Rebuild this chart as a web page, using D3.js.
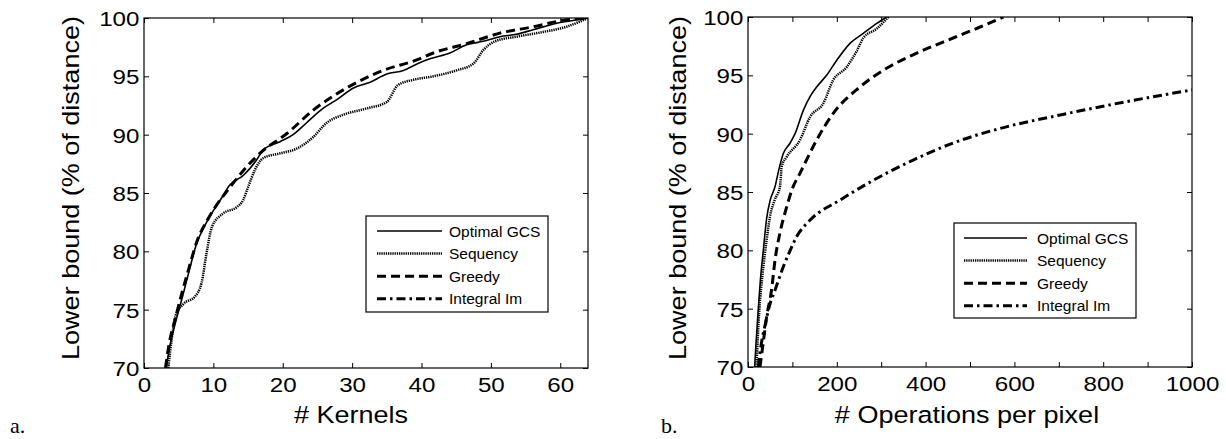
<!DOCTYPE html>
<html>
<head>
<meta charset="utf-8">
<script src="https://cdn.jsdelivr.net/npm/d3@7"></script>
<style>
  body { margin: 0; background: #fff; }
  svg { display: block; background: #fff; }
  text { font-family: "Liberation Sans", Arial, Helvetica; fill: #000; }
</style>
</head>
<body>
<svg id="chart" width="1226" height="439"></svg>
<script>
// y axis shared by both panels
const lowerBoundTicks = [70, 75, 80, 85, 90, 95, 100];

// panel a: x = # kernels
const kernelTicks = [0, 10, 20, 30, 40, 50, 60];
const kernelsOptimal = [[3.2,70],[3.6,71.5],[4.5,73.8],[5.5,76],[6.5,78.3],[7.6,80.7],[8.5,81.9],[9.5,83],[11,84.4],[12.4,85.7],[14.3,86.5],[16.2,87.8],[17.2,88.7],[19.6,89.4],[21.5,90],[23.4,91],[25.8,92.25],[27.8,93],[30.2,94],[32.6,94.5],[35,95.2],[37.4,95.5],[39.5,96.1],[41.2,96.5],[44.1,97],[46.5,97.7],[48.9,98],[51.3,98.4],[53.7,98.6],[56.1,99],[59.5,99.55],[62,99.8],[64,100]];
const kernelsSequency = [[3.5,70],[4,72.5],[4.5,74.4],[5.7,75.5],[7.3,76.1],[8.3,77.3],[9,79.8],[9.8,82.1],[11.4,83.25],[13.4,83.8],[14.3,84.4],[15,85.5],[16,87],[17.2,88],[19.6,88.4],[22,88.8],[24.4,89.8],[26.3,91],[28.7,91.7],[32.1,92.25],[35,92.8],[36.6,94.25],[38.8,94.7],[41.7,95],[45,95.5],[47.5,96.1],[48.9,97.25],[50.6,98],[53.7,98.4],[57.5,98.8],[60.9,99.25],[64,100]];
const kernelsGreedy = [[3.1,70],[3.6,72],[4.5,74.2],[5.5,76.5],[6.5,78.6],[7.6,80.8],[9.3,82.85],[12.4,85.5],[16.7,88.4],[20.6,90.1],[24.4,92.1],[29.2,94],[34,95.4],[39.5,96.45],[41.7,97],[46.5,97.8],[51.3,98.7],[56.1,99.25],[60,99.75],[64,100]];

// panel b: x = # operations per pixel
const opsTicks = [0, 100, 200, 300, 400, 500, 600, 700, 800, 900, 1000];
const opsTickLabels = [0, 200, 400, 600, 800, 1000];
const opsOptimal = [[15,70],[18,72],[23,74.9],[28,77.5],[34.5,80],[42,82.74],[50,84.3],[60.8,85.45],[70,87],[79.5,88.3],[95,89.2],[106,90],[124.6,92],[140,93.2],[154.6,94],[177,95],[200,96.3],[229.7,97.74],[259.7,98.6],[290,99.45],[312,100]];
const opsSequency = [[19,70],[22,72.5],[25.5,74.9],[33,78],[42,80.9],[49.5,82.9],[60,84.3],[72,85.45],[76,87.2],[87,88],[117,89.45],[140,91.45],[169.6,92.6],[192,94.6],[222,95.7],[245,97.1],[259.7,98.2],[290,99],[316,100]];
const opsGreedy = [[27,70],[34,72],[42,74.3],[53,76.6],[61,79.2],[72,81.5],[87,83.7],[100,85.3],[117,86.6],[154.6,89.45],[192,91.74],[252,94],[312,95.6],[380,96.9],[462,98.2],[520,99.1],[575,100]];
const opsIntegral = [[23,70],[30,72],[38,73.5],[48,75.2],[61,76.6],[79.5,78.6],[95,80],[110,81.2],[140,82.6],[207,84.3],[282,86],[372,87.74],[462,89.2],[568,90.45],[703,91.6],[853,92.75],[1000,93.75]];

const seriesNames = ["Optimal GCS", "Sequency", "Greedy", "Integral Im"];
const styles = {
  "Optimal GCS": { width: 1.6, dash: null },
  "Sequency":    { width: 2.5, dash: "1.3,0.9" },
  "Greedy":      { width: 3,   dash: "9,5" },
  "Integral Im": { width: 3,   dash: "9,4,2.5,4" }
};

const SX = 1.15; // glyphs in the original look a little wide

const panels = [
  {
    id: "a", x0: 144, x1: 588, y0: 18, y1: 368, xDomain: [0, 64],
    xTicks: kernelTicks, xLabels: kernelTicks, xTitle: "# Kernels", xTitleX: 351,
    series: { "Optimal GCS": kernelsOptimal, "Sequency": kernelsSequency, "Greedy": kernelsGreedy },
    legend: { x: 366, y: 216, w: 182, h: 96, l0: 377, l1: 442, tx: 449 },
    tag: { text: "a.", x: 10, y: 433 }, yTitleX: 79
  },
  {
    id: "b", x0: 748, x1: 1192, y0: 17, y1: 367, xDomain: [0, 1000],
    xTicks: opsTicks, xLabels: opsTickLabels, xTitle: "# Operations per pixel", xTitleX: 967,
    series: { "Optimal GCS": opsOptimal, "Sequency": opsSequency, "Greedy": opsGreedy, "Integral Im": opsIntegral },
    legend: { x: 954, y: 223, w: 182, h: 95, l0: 964, l1: 1027, tx: 1037 },
    tag: { text: "b.", x: 661, y: 433 }, yTitleX: 686
  }
];

const svg = d3.select("#chart");

panels.forEach(p => {
  const x = d3.scaleLinear().domain(p.xDomain).range([p.x0, p.x1]);
  const y = d3.scaleLinear().domain([70, 100]).range([p.y1, p.y0]);
  const g = svg.append("g");

  g.append("clipPath").attr("id", "clip-" + p.id)
    .append("rect").attr("x", p.x0).attr("y", p.y0)
    .attr("width", p.x1 - p.x0).attr("height", p.y1 - p.y0);

  // axes, ticks pointing inward
  const styleAxis = sel => {
    sel.select(".domain").remove();
    sel.selectAll("line").attr("stroke", "#000");
    sel.selectAll("text").attr("font-size", 21).attr("fill", "#000")
      .attr("font-family", null)
      .attr("transform", `scale(${SX},1)`);
  };
  g.append("g").attr("transform", `translate(0,${p.y1})`)
    .call(d3.axisBottom(x).tickValues(p.xTicks)
      .tickFormat(d => p.xLabels.includes(d) ? d : "")
      .tickSizeInner(-5).tickSizeOuter(0).tickPadding(9))
    .call(styleAxis);
  g.append("g").attr("transform", `translate(0,${p.y0})`)
    .call(d3.axisTop(x).tickValues(p.xTicks).tickFormat("")
      .tickSizeInner(-5).tickSizeOuter(0))
    .call(styleAxis);
  g.append("g").attr("transform", `translate(${p.x0},0)`)
    .call(d3.axisLeft(y).tickValues(lowerBoundTicks)
      .tickSizeInner(-5).tickSizeOuter(0).tickPadding(4))
    .call(styleAxis)
    .selectAll("text").attr("dy", "0.36em");
  g.append("g").attr("transform", `translate(${p.x1},0)`)
    .call(d3.axisRight(y).tickValues(lowerBoundTicks).tickFormat("")
      .tickSizeInner(-5).tickSizeOuter(0))
    .call(styleAxis);

  g.append("rect").attr("x", p.x0).attr("y", p.y0)
    .attr("width", p.x1 - p.x0).attr("height", p.y1 - p.y0)
    .attr("fill", "none").attr("stroke", "#000").attr("stroke-width", 1.2);

  // curves
  const line = d3.line().x(d => x(d[0])).y(d => y(d[1])).curve(d3.curveMonotoneX);
  seriesNames.forEach(name => {
    const data = p.series[name];
    if (!data) return;
    g.append("path").datum(data)
      .attr("clip-path", `url(#clip-${p.id})`)
      .attr("d", line)
      .attr("fill", "none").attr("stroke", "#000")
      .attr("stroke-width", styles[name].width)
      .attr("stroke-dasharray", styles[name].dash);
  });

  // legend
  const L = p.legend;
  g.append("rect").attr("x", L.x).attr("y", L.y).attr("width", L.w).attr("height", L.h)
    .attr("fill", "#fff").attr("stroke", "#000").attr("stroke-width", 1.2);
  seriesNames.forEach((name, i) => {
    const ry = L.y + 15 + i * 22.6;
    g.append("line").attr("x1", L.l0).attr("x2", L.l1).attr("y1", ry).attr("y2", ry)
      .attr("stroke", "#000").attr("stroke-width", styles[name].width)
      .attr("stroke-dasharray", styles[name].dash);
    g.append("text").attr("x", L.tx).attr("y", ry)
      .attr("dy", "0.36em").attr("font-size", 15.5).text(name);
  });

  // titles
  g.append("text")
    .attr("transform", `translate(${p.xTitleX},423) scale(${SX},1)`)
    .attr("text-anchor", "middle").attr("font-size", 23.5).text(p.xTitle);
  g.append("text")
    .attr("transform", `translate(${p.yTitleX},188) rotate(-90) scale(${SX},1)`)
    .attr("text-anchor", "middle").attr("font-size", 23.5).text("Lower bound (% of distance)");
  g.append("text").attr("x", p.tag.x).attr("y", p.tag.y)
    .style("font-family", "\"Liberation Serif\", \"Times New Roman\", serif")
    .attr("font-size", 22).text(p.tag.text);
});
</script>
</body>
</html>
